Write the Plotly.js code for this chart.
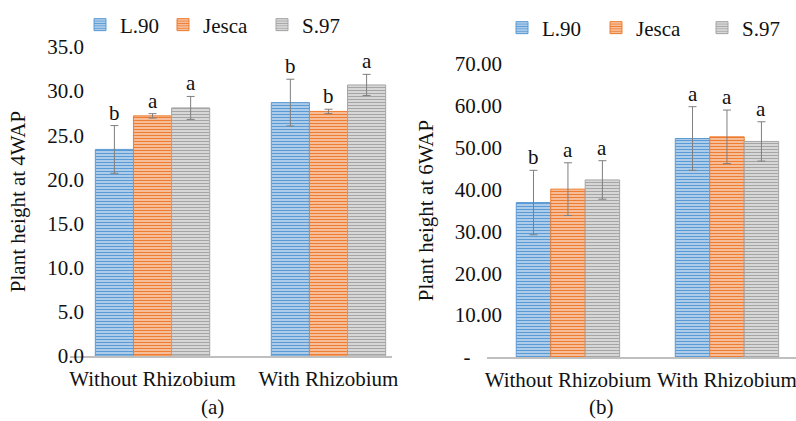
<!DOCTYPE html>
<html>
<head>
<meta charset="utf-8">
<script src="https://cdn.plot.ly/plotly-3.0.1.min.js"></script>
<style>
html,body{margin:0;padding:0;background:#fff;}
#chart{width:796px;height:421px;}
</style>
</head>
<body>
<div id="chart"></div>
<script>
// ---- data ----
const categories = ["Without Rhizobium", "With Rhizobium"];
const varieties = ["L.90", "Jesca", "S.97"];

// (a) Plant height at 4WAP
const heightA_L90 = [23.4, 28.7];
const heightA_Jesca = [27.2, 27.7];
const heightA_S97 = [28.1, 30.7];
const errA_L90 = [2.7, 2.65];
const errA_Jesca = [0.25, 0.25];
const errA_S97 = [1.3, 1.2];
const lettersA_L90 = ["b", "b"];
const lettersA_Jesca = ["a", "b"];
const lettersA_S97 = ["a", "a"];

// (b) Plant height at 6WAP
const heightB_L90 = [36.9, 52.2];
const heightB_Jesca = [40.1, 52.6];
const heightB_S97 = [42.3, 51.5];
const errB_L90 = [7.7, 7.6];
const errB_Jesca = [6.3, 6.4];
const errB_S97 = [4.6, 4.7];
const lettersB_L90 = ["b", "a"];
const lettersB_Jesca = ["a", "a"];
const lettersB_S97 = ["a", "a"];

const yTicksA = [0, 5, 10, 15, 20, 25, 30, 35];
const yTickTextA = ["0.0", "5.0", "10.0", "15.0", "20.0", "25.0", "30.0", "35.0"];
const yTicksB = [0, 10, 20, 30, 40, 50, 60, 70];
const yTickTextB = ["-\u00a0\u00a0\u00a0\u00a0\u00a0\u00a0", "10.00", "20.00", "30.00", "40.00", "50.00", "60.00", "70.00"];

// ---- style ----
const FONT = "Liberation Serif";
const FS = 21;
const W = 796, H = 421;
const mainColors = ["#5B9BD5", "#ED7D31", "#A5A5A5"];
const lightColors = ["#BDD7EE", "#F8CBAD", "#E2E2E2"];
const BARGAP = 0.35;

const seriesA = [
  {y: heightA_L90, e: errA_L90, l: lettersA_L90},
  {y: heightA_Jesca, e: errA_Jesca, l: lettersA_Jesca},
  {y: heightA_S97, e: errA_S97, l: lettersA_S97}
];
const seriesB = [
  {y: heightB_L90, e: errB_L90, l: lettersB_L90},
  {y: heightB_Jesca, e: errB_Jesca, l: lettersB_Jesca},
  {y: heightB_S97, e: errB_S97, l: lettersB_S97}
];

const traces = [];
const annotations = [];
const legends = {};
const legendPos = {
  a: [[80, 25], [163, 25], [262, 25]],
  b: [[502, 28], [596, 28], [702, 28]]
};
let legIdx = 1;

function addPanel(series, xa, ya, key) {
  const bw = (1 - BARGAP) / series.length;
  series.forEach((s, i) => {
    const lname = legIdx === 1 ? "legend" : "legend" + legIdx;
    traces.push({
      type: "bar",
      name: varieties[i],
      x: categories,
      y: s.y,
      xaxis: xa, yaxis: ya,
      legend: lname,
      marker: {
        color: lightColors[i],
        line: {color: mainColors[i], width: 1},
        pattern: {shape: "-", size: 3, solidity: 0.45, fgcolor: mainColors[i], bgcolor: lightColors[i], fillmode: "replace"}
      },
      error_y: {type: "data", array: s.e, visible: true, color: "#7F7F7F", thickness: 1, width: 4}
    });
    const p = legendPos[key][i];
    legends[lname] = {
      x: p[0] / W, y: 1 - p[1] / H, xanchor: "left", yanchor: "middle",
      orientation: "h", bgcolor: "rgba(0,0,0,0)", borderwidth: 0,
      font: {family: FONT, size: FS, color: "#111"}, itemwidth: 30
    };
    legIdx++;
    s.y.forEach((v, g) => {
      annotations.push({
        xref: xa, yref: ya,
        x: g + (i - (series.length - 1) / 2) * bw,
        y: v + s.e[g],
        text: s.l[g], showarrow: false, yanchor: "bottom", yshift: -1,
        font: {family: FONT, size: FS, color: "#111"}
      });
    });
  });
}
addPanel(seriesA, "x", "y", "a");
addPanel(seriesB, "x2", "y2", "b");

annotations.push({xref: "paper", yref: "paper", x: 212 / W, y: 1 - 407 / H, xanchor: "center", yanchor: "middle",
  text: "(a)", showarrow: false, font: {family: FONT, size: FS, color: "#111"}});
annotations.push({xref: "paper", yref: "paper", x: 601 / W, y: 1 - 407 / H, xanchor: "center", yanchor: "middle",
  text: "(b)", showarrow: false, font: {family: FONT, size: FS, color: "#111"}});

const tickFont = {family: FONT, size: FS, color: "#111"};

const layout = Object.assign({
  width: W, height: H,
  margin: {l: 0, r: 0, t: 0, b: 0},
  paper_bgcolor: "#fff", plot_bgcolor: "rgba(0,0,0,0)",
  barmode: "group", bargap: BARGAP, bargroupgap: 0,
  font: {family: FONT, size: FS, color: "#111"},
  showlegend: true,
  xaxis: {
    domain: [70 / W, 392 / W], anchor: "y", type: "category",
    range: [-0.469, 1.361], showgrid: false, zeroline: false,
    showline: true, linecolor: "#BFBFBF", linewidth: 2, ticks: "",
    tickfont: tickFont, ticklabelstandoff: 3
  },
  yaxis: {
    domain: [(H - 356) / H, (H - 47) / H], anchor: "free", position: 84 / W,
    range: [0, 35], tickvals: yTicksA, ticktext: yTickTextA,
    showgrid: false, zeroline: false, showline: false, ticks: "",
    tickfont: tickFont,
    title: {text: "Plant height at 4WAP", font: {family: FONT, size: FS, color: "#111"}, standoff: 14}
  },
  xaxis2: {
    domain: [487 / W, 1], anchor: "y2", type: "category",
    range: [-0.509, 1.434], showgrid: false, zeroline: false,
    showline: true, linecolor: "#BFBFBF", linewidth: 2, ticks: "",
    tickfont: tickFont, ticklabelstandoff: 3
  },
  yaxis2: {
    domain: [(H - 357) / H, (H - 64) / H], anchor: "free", position: 502 / W,
    range: [0, 70], tickvals: yTicksB, ticktext: yTickTextB,
    showgrid: false, zeroline: false, showline: false, ticks: "",
    tickfont: tickFont,
    title: {text: "Plant height at 6WAP", font: {family: FONT, size: FS, color: "#111"}, standoff: 14}
  },
  annotations: annotations
}, legends);

Plotly.newPlot("chart", traces, layout, {displayModeBar: false, staticPlot: true});
</script>
</body>
</html>
